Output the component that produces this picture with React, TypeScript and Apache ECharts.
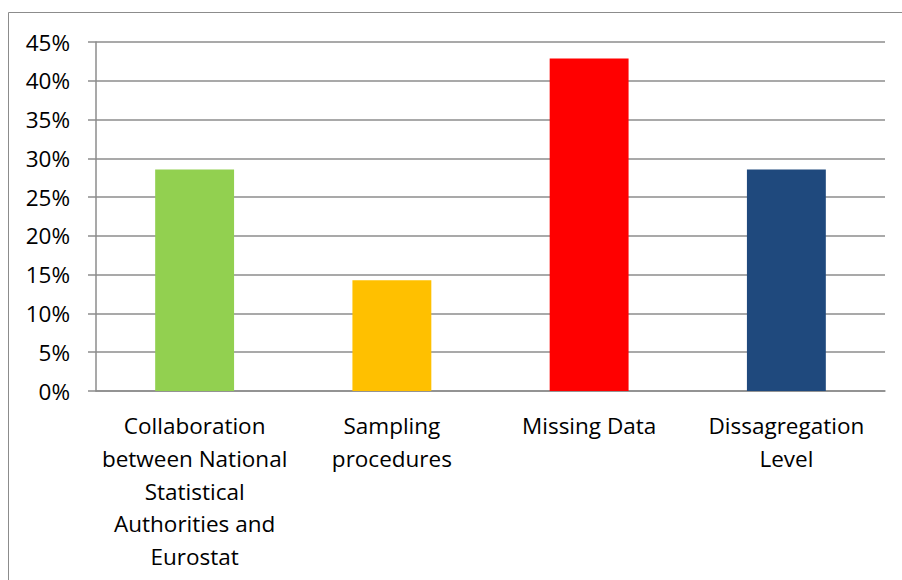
import React, { useEffect, useRef } from "react";
import * as echarts from "echarts";

const categories = [
  "Collaboration\nbetween National\nStatistical\nAuthorities and\nEurostat",
  "Sampling\nprocedures",
  "Missing Data",
  "Dissagregation\nLevel",
];
const values = [28.57, 14.29, 42.86, 28.57];
const barColors = ["#92D050", "#FFC000", "#FF0000", "#1F497D"];

const FONT = "Open Sans";

export default function App() {
  const ref = useRef<HTMLDivElement>(null);
  useEffect(() => {
    if (!ref.current) return;
    const chart = echarts.init(ref.current, undefined, { renderer: "svg" });
    chart.setOption({
      animation: false,
      backgroundColor: "#ffffff",
      grid: { left: 96, right: 17, top: 42, bottom: 189, containLabel: false },
      graphic: [
        {
          type: "rect",
          shape: { x: 8.5, y: 12.5, width: 1000, height: 1000 },
          style: { fill: "none", stroke: "#8c8c8c", lineWidth: 1 },
          silent: true,
        },
      ],
      xAxis: {
        type: "category",
        data: categories,
        axisLine: { show: true, lineStyle: { color: "#8c8c8c", width: 1.5 } },
        axisTick: { show: false },
        axisLabel: {
          interval: 0,
          color: "#000000",
          fontFamily: FONT,
          fontSize: 22.5,
          lineHeight: 32.8,
          margin: 18,
          align: "center",
        },
      },
      yAxis: {
        type: "value",
        min: 0,
        max: 45,
        interval: 5,
        axisLine: { show: true, lineStyle: { color: "#8c8c8c", width: 1.5 } },
        axisTick: { show: true, length: 8, lineStyle: { color: "#8c8c8c", width: 1.5 } },
        splitLine: { show: true, lineStyle: { color: "#8c8c8c", width: 1.5 } },
        axisLabel: {
          color: "#000000",
          fontFamily: FONT,
          fontSize: 22.5,
          margin: 26,
          formatter: (v: number) => `${v}%`,
        },
      },
      series: [
        {
          type: "bar",
          barWidth: "40%",
          data: values.map((v, i) => ({ value: v, itemStyle: { color: barColors[i] } })),
        },
      ],
    });
    return () => chart.dispose();
  }, []);
  return (
    <div
      ref={ref}
      style={{ position: "absolute", left: 0, top: 0, width: 902, height: 580 }}
    />
  );
}
